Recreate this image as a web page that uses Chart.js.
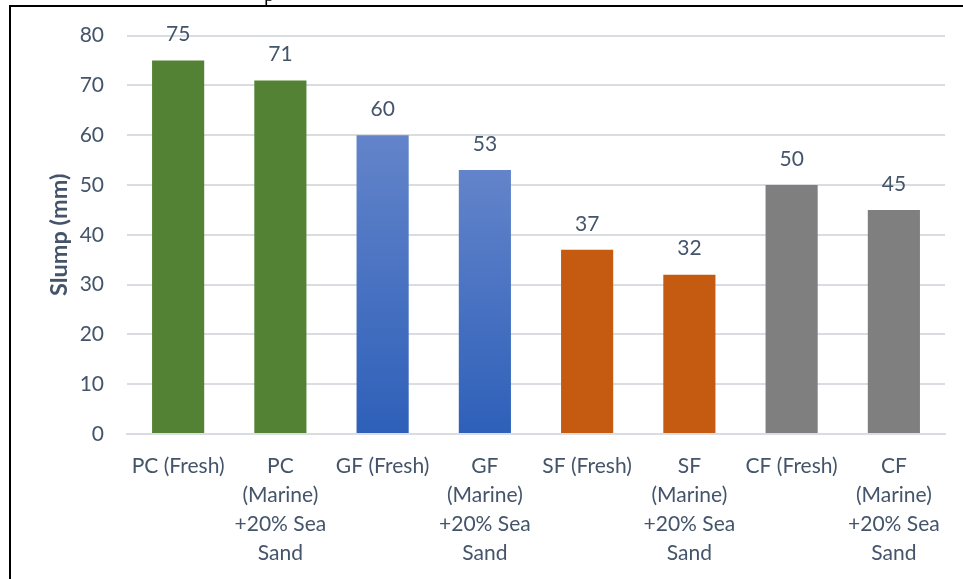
<!DOCTYPE html>
<html>
<head>
<meta charset="utf-8">
<script src="https://cdn.jsdelivr.net/npm/chart.js@4/dist/chart.umd.min.js"></script>
<style>
  html, body { margin: 0; padding: 0; background: #fff; }
  #wrap { position: relative; width: 963px; height: 579px; overflow: hidden; }
  #c { position: absolute; left: 0; top: 0; }
  .edge-top { position: absolute; left: 9px; top: 5px; width: 954px; height: 2px; background: #000; }
  .edge-left { position: absolute; left: 9px; top: 5px; width: 2px; height: 574px; background: #000; }
  .cut { position: absolute; left: 264px; top: 0; width: 20px; height: 5px; overflow: hidden; }
  .cut span { position: absolute; left: 0; bottom: 0; font: 20px "Liberation Serif", serif; line-height: 20px; color: #000; transform: translateY(-1px); }
</style>
</head>
<body>
<div id="wrap">
  <canvas id="c" width="963" height="579"></canvas>
  <div class="cut"><span>p</span></div>
  <div class="edge-top"></div>
  <div class="edge-left"></div>
</div>
<script>
// Slump test results per mix
const categories = [
  'PC (Fresh)', ['PC', '(Marine)', '+20% Sea', 'Sand'],
  'GF (Fresh)', ['GF', '(Marine)', '+20% Sea', 'Sand'],
  'SF (Fresh)', ['SF', '(Marine)', '+20% Sea', 'Sand'],
  'CF (Fresh)', ['CF', '(Marine)', '+20% Sea', 'Sand']
];
const slumpValues = [75, 71, 60, 53, 37, 32, 50, 45];
const yTicks = [0, 10, 20, 30, 40, 50, 60, 70, 80];
const yTitle = 'Slump (mm)';

const textColor = '#44546A';
const fontFamily = 'Lato, "Open Sans", sans-serif';
const barColors = ['#548235', '#548235', 'blue', 'blue', '#C55A11', '#C55A11', '#7F7F7F', '#7F7F7F'];

function barFill(ctx) {
  const kind = barColors[ctx.dataIndex];
  if (kind !== 'blue') return kind;
  const chart = ctx.chart;
  const ys = chart.scales.y;
  if (!ys || ys.top === undefined) return '#4472C4';
  const top = ys.getPixelForValue(slumpValues[ctx.dataIndex]);
  const bottom = ys.getPixelForValue(0);
  if (!isFinite(top) || !isFinite(bottom) || top === bottom) return '#4472C4';
  const g = chart.ctx.createLinearGradient(0, top, 0, bottom);
  g.addColorStop(0, '#6384CA');
  g.addColorStop(1, '#2E60B9');
  return g;
}

// value labels above each bar
const valueLabels = {
  id: 'valueLabels',
  afterDatasetsDraw(chart) {
    const { ctx } = chart;
    const meta = chart.getDatasetMeta(0);
    ctx.save();
    ctx.fillStyle = textColor;
    ctx.font = '21px ' + fontFamily;
    ctx.textAlign = 'center';
    ctx.textBaseline = 'middle';
    meta.data.forEach((bar, i) => {
      ctx.fillText(String(slumpValues[i]), bar.x, bar.y - 26);
    });
    ctx.restore();
  }
};

new Chart(document.getElementById('c'), {
  type: 'bar',
  data: {
    labels: categories,
    datasets: [{
      data: slumpValues,
      backgroundColor: barFill,
      borderWidth: 0,
      categoryPercentage: 1,
      barPercentage: 0.51
    }]
  },
  options: {
    responsive: false,
    animation: false,
    layout: { padding: { left: 0, right: 18, top: 35, bottom: 0 } },
    plugins: { legend: { display: false }, tooltip: { enabled: false } },
    scales: {
      x: {
        grid: { display: false, drawTicks: false },
        border: { display: true, color: '#D9DCE1', width: 2 },
        ticks: {
          color: textColor,
          font: { family: fontFamily, size: 21, lineHeight: 1.38 },
          padding: 18,
          maxRotation: 0,
          autoSkip: false
        },
        afterFit(scale) { scale.height = 145; }
      },
      y: {
        min: 0,
        max: 80,
        afterBuildTicks(scale) { scale.ticks = yTicks.map(v => ({ value: v })); },
        grid: { color: '#D9DCE1', lineWidth: 2, drawTicks: false },
        border: { display: false },
        ticks: {
          color: textColor,
          font: { family: fontFamily, size: 21 },
          padding: 23
        },
        title: {
          display: true,
          text: yTitle,
          color: textColor,
          font: { family: fontFamily, size: 23.5, weight: 'bold' },
          padding: { top: 45, bottom: 0 }
        },
        afterFit(scale) { scale.width = 127; }
      }
    }
  },
  plugins: [valueLabels]
});
</script>
</body>
</html>
